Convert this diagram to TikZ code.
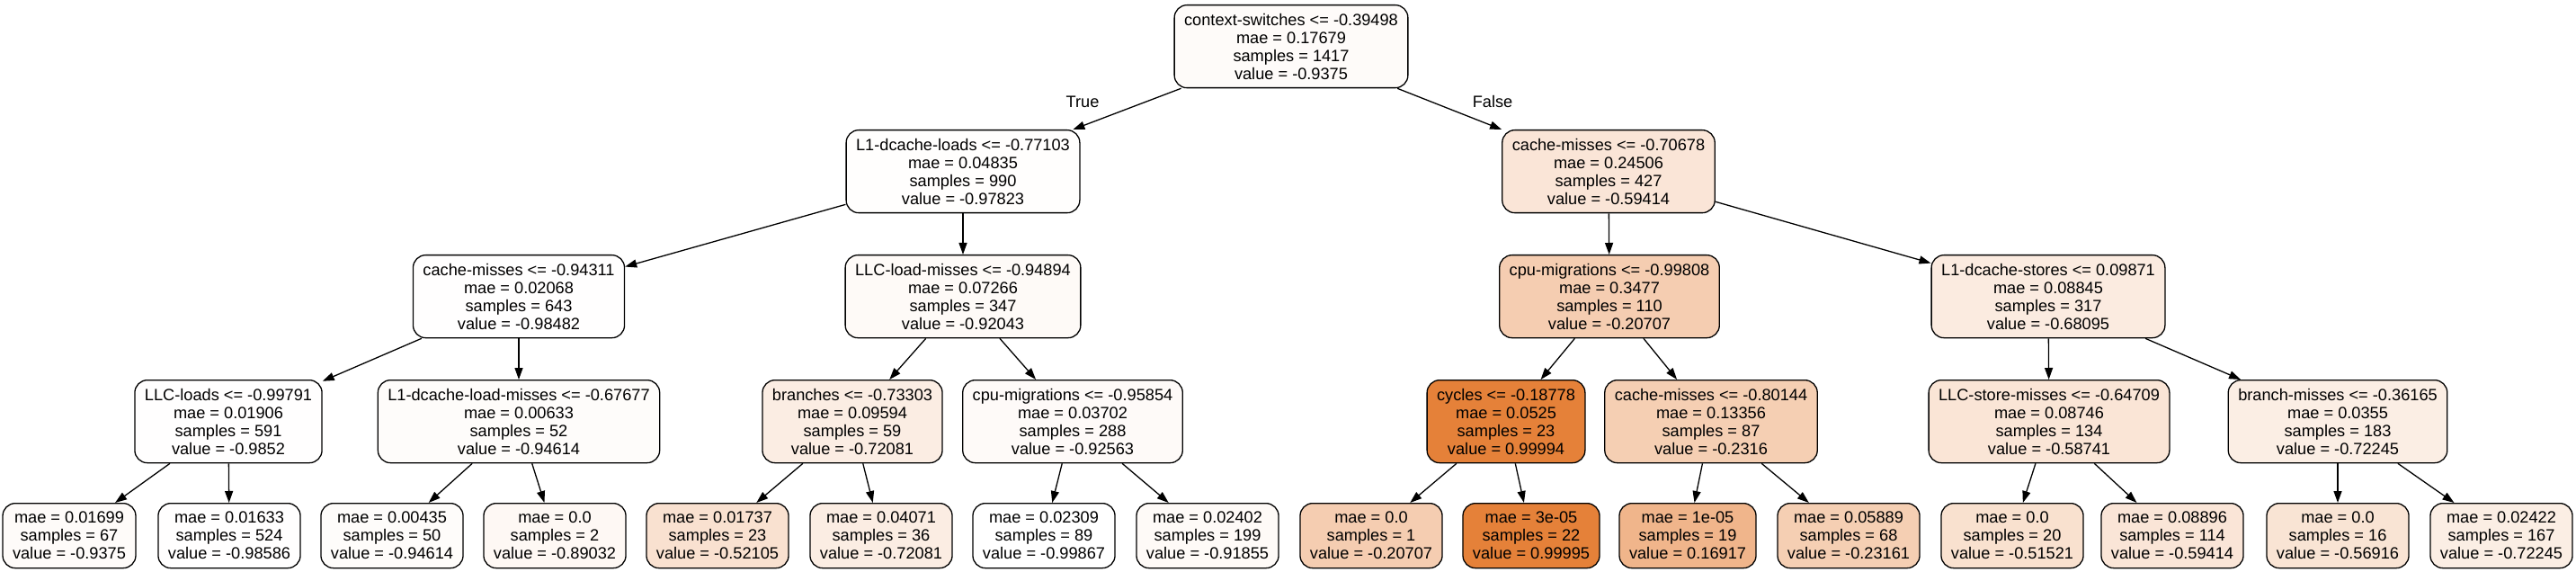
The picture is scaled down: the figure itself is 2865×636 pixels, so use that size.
\documentclass[tikz,border=0pt]{standalone}
\usepackage{fontspec}
\setmainfont{Liberation Sans}
\usetikzlibrary{arrows.meta}
\definecolor{base}{HTML}{E58139}
\tikzset{
  tnode/.style={draw=black, line width=1.3pt, rounded corners=14pt, align=center,
    inner xsep=11pt, inner ysep=0pt, anchor=north, minimum height=92pt,
    font=\fontsize{18.2}{20}\selectfont},
  leaf/.style={tnode, minimum height=72pt},
  edge/.style={line width=1.3pt, -{Triangle[length=13pt,width=9pt]}},
  lbl/.style={font=\fontsize{18.2}{20}\selectfont, inner sep=0pt}
}
\begin{document}
\begin{tikzpicture}[x=1pt,y=1pt]
\useasboundingbox (0,0) rectangle (2865,-636);
% level 0
\node[tnode, fill=base!3.06!white] (root) at (1436,-5) {context-switches <= -0.39498\\mae = 0.17679\\samples = 1417\\value = -0.9375};
% level 1
\node[tnode, fill=base!1.02!white] (a) at (1071,-144) {L1-dcache-loads <= -0.77103\\mae = 0.04835\\samples = 990\\value = -0.97823};
\node[tnode, fill=base!20.24!white] (b) at (1789,-144) {cache-misses <= -0.70678\\mae = 0.24506\\samples = 427\\value = -0.59414};
% level 2
\node[tnode, fill=base!0.69!white] (aa) at (577,-283) {cache-misses <= -0.94311\\mae = 0.02068\\samples = 643\\value = -0.98482};
\node[tnode, fill=base!3.91!white] (ab) at (1071,-283) {LLC-load-misses <= -0.94894\\mae = 0.07266\\samples = 347\\value = -0.92043};
\node[tnode, fill=base!39.61!white] (ba) at (1790,-283) {cpu-migrations <= -0.99808\\mae = 0.3477\\samples = 110\\value = -0.20707};
\node[tnode, fill=base!15.90!white] (bb) at (2278,-283) {L1-dcache-stores <= 0.09871\\mae = 0.08845\\samples = 317\\value = -0.68095};
% level 3
\node[tnode, fill=base!0.67!white] (aaa) at (254,-422) {LLC-loads <= -0.99791\\mae = 0.01906\\samples = 591\\value = -0.9852};
\node[tnode, fill=base!2.63!white] (aab) at (577,-422) {L1-dcache-load-misses <= -0.67677\\mae = 0.00633\\samples = 52\\value = -0.94614};
\node[tnode, fill=base!13.90!white] (aba) at (948,-422) {branches <= -0.73303\\mae = 0.09594\\samples = 59\\value = -0.72081};
\node[tnode, fill=base!3.65!white] (abb) at (1193,-422) {cpu-migrations <= -0.95854\\mae = 0.03702\\samples = 288\\value = -0.92563};
\node[tnode, fill=base!99.99!white] (baa) at (1675,-422) {cycles <= -0.18778\\mae = 0.0525\\samples = 23\\value = 0.99994};
\node[tnode, fill=base!38.38!white] (bab) at (1903,-422) {cache-misses <= -0.80144\\mae = 0.13356\\samples = 87\\value = -0.2316};
\node[tnode, fill=base!20.58!white] (bba) at (2279,-422) {LLC-store-misses <= -0.64709\\mae = 0.08746\\samples = 134\\value = -0.58741};
\node[tnode, fill=base!13.82!white] (bbb) at (2600,-422) {branch-misses <= -0.36165\\mae = 0.0355\\samples = 183\\value = -0.72245};
% leaves
\node[leaf, fill=base!3.06!white] (l1) at (77,-559) {mae = 0.01699\\samples = 67\\value = -0.9375};
\node[leaf, fill=base!0.64!white] (l2) at (255,-559) {mae = 0.01633\\samples = 524\\value = -0.98586};
\node[leaf, fill=base!2.63!white] (l3) at (436,-559) {mae = 0.00435\\samples = 50\\value = -0.94614};
\node[leaf, fill=base!5.42!white] (l4) at (617,-559) {mae = 0.0\\samples = 2\\value = -0.89032};
\node[leaf, fill=base!23.90!white] (l5) at (798,-559) {mae = 0.01737\\samples = 23\\value = -0.52105};
\node[leaf, fill=base!13.90!white] (l6) at (980,-559) {mae = 0.04071\\samples = 36\\value = -0.72081};
\node[leaf, fill=white] (l7) at (1161,-559) {mae = 0.02309\\samples = 89\\value = -0.99867};
\node[leaf, fill=base!4.01!white] (l8) at (1343,-559) {mae = 0.02402\\samples = 199\\value = -0.91855};
\node[leaf, fill=base!39.61!white] (l9) at (1525,-559) {mae = 0.0\\samples = 1\\value = -0.20707};
\node[leaf, fill=base] (l10) at (1703,-559) {mae = 3e-05\\samples = 22\\value = 0.99995};
\node[leaf, fill=base!58.43!white] (l11) at (1877,-559) {mae = 1e-05\\samples = 19\\value = 0.16917};
\node[leaf, fill=base!38.38!white] (l12) at (2056,-559) {mae = 0.05889\\samples = 68\\value = -0.23161};
\node[leaf, fill=base!24.19!white] (l13) at (2238,-559) {mae = 0.0\\samples = 20\\value = -0.51521};
\node[leaf, fill=base!20.24!white] (l14) at (2416,-559) {mae = 0.08896\\samples = 114\\value = -0.59414};
\node[leaf, fill=base!21.49!white] (l15) at (2600,-559) {mae = 0.0\\samples = 16\\value = -0.56916};
\node[leaf, fill=base!13.82!white] (l16) at (2782,-559) {mae = 0.02422\\samples = 167\\value = -0.72245};
% edges
\draw[edge] (root) -- (a);
\draw[edge] (root) -- (b);
\draw[edge] (a) -- (aa);
\draw[edge] (a) -- (ab);
\draw[edge] (b) -- (ba);
\draw[edge] (b) -- (bb);
\draw[edge] (aa) -- (aaa);
\draw[edge] (aa) -- (aab);
\draw[edge] (ab) -- (aba);
\draw[edge] (ab) -- (abb);
\draw[edge] (ba) -- (baa);
\draw[edge] (ba) -- (bab);
\draw[edge] (bb) -- (bba);
\draw[edge] (bb) -- (bbb);
\draw[edge] (aaa) -- (l1);
\draw[edge] (aaa) -- (l2);
\draw[edge] (aab) -- (l3);
\draw[edge] (aab) -- (l4);
\draw[edge] (aba) -- (l5);
\draw[edge] (aba) -- (l6);
\draw[edge] (abb) -- (l7);
\draw[edge] (abb) -- (l8);
\draw[edge] (baa) -- (l9);
\draw[edge] (baa) -- (l10);
\draw[edge] (bab) -- (l11);
\draw[edge] (bab) -- (l12);
\draw[edge] (bba) -- (l13);
\draw[edge] (bba) -- (l14);
\draw[edge] (bbb) -- (l15);
\draw[edge] (bbb) -- (l16);
% labels
\node[lbl] (tl) at (1204,-113) {True};
\node[lbl] (fl) at (1660,-113) {False};
\end{tikzpicture}
\end{document}
